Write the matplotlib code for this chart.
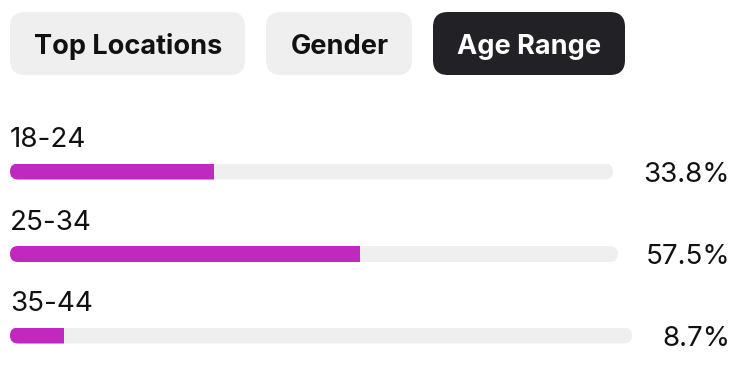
import matplotlib
matplotlib.use("Agg")
import matplotlib.pyplot as plt
from matplotlib.patches import FancyBboxPatch

# ---- data ----
tabs = ["Top Locations", "Gender", "Age Range"]
active_tab = "Age Range"
categories = ["18-24", "25-34", "35-44"]
values = [33.8, 57.5, 8.7]
value_labels = ["33.8%", "57.5%", "8.7%"]

# ---- style ----
W, H = 750, 370
DPI = 100
PURPLE = "#C128C0"
TRACK = "#EFEFEF"
DARK = "#222226"
TXT = "#111111"
FONT = ["Inter", "DejaVu Sans"]

fig = plt.figure(figsize=(W / DPI, H / DPI), dpi=DPI)
fig.patch.set_facecolor("white")

# canvas axes in pixel coordinates for layout (buttons, text)
cv = fig.add_axes([0, 0, 1, 1])
cv.set_xlim(0, W)
cv.set_ylim(H, 0)
cv.axis("off")

# tab buttons
tab_boxes = [(10, 245), (266, 412), (433, 625)]
btn_top, btn_bot = 12, 75
r = 15
for name, (x0, x1) in zip(tabs, tab_boxes):
    active = name == active_tab
    p = FancyBboxPatch((x0 + r, btn_top + r), (x1 - x0) - 2 * r, (btn_bot - btn_top) - 2 * r,
                       boxstyle=f"round,pad={r},rounding_size={r}",
                       facecolor=DARK if active else TRACK, edgecolor="none")
    cv.add_patch(p)
    cv.text((x0 + x1) / 2 + 0.5, 54.5, name, ha="center", va="baseline",
            fontsize=19.5, fontweight="bold", family=FONT,
            color="white" if active else TXT)

# rows
row_centers = [171.5, 254, 335.5]
track_right = [613, 618, 632]
track_left = 10
bar_h = 16
for cat, val, lab, yc, xr in zip(categories, values, value_labels, row_centers, track_right):
    # label above and value at right
    cv.text(track_left, yc - 24.5, cat, ha="left", va="baseline",
            fontsize=20, family=FONT, color=TXT)
    cv.text(730, yc + 10.5, lab, ha="right", va="baseline",
            fontsize=20, family=FONT, color=TXT)

    # row axes: x in percent over the track width
    tw = xr - track_left
    ax = fig.add_axes([track_left / W, (H - (yc + bar_h / 2)) / H, tw / W, bar_h / H])
    ax.set_xlim(0, 100)
    ax.set_ylim(-0.5, 0.5)
    ax.axis("off")
    ax.patch.set_alpha(0)
    rad_x = (bar_h / 2) * 100.0 / tw
    aspect = (1.0 / bar_h) / (100.0 / tw)
    track = FancyBboxPatch((0, -0.5), 100, 1,
                           boxstyle=f"round,pad=0,rounding_size={rad_x}",
                           mutation_aspect=aspect,
                           facecolor=TRACK, edgecolor="none")
    ax.add_patch(track)
    bars = ax.barh(0, val, height=1, left=0, color=PURPLE, edgecolor="none")
    for b in bars:
        b.set_clip_path(track)

fig.savefig("out.png", dpi=DPI, facecolor="white")
